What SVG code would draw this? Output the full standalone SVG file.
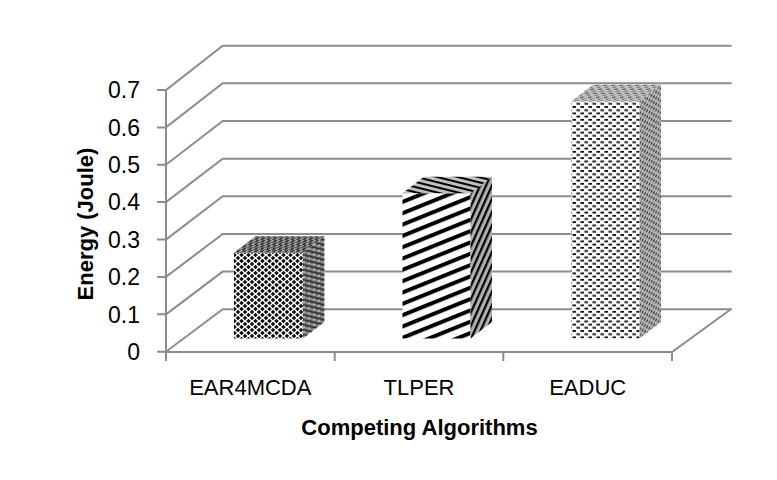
<svg xmlns="http://www.w3.org/2000/svg" width="777" height="480" viewBox="0 0 777 480">
<style>
.g{stroke:#8c8c8c;stroke-width:2;fill:none;stroke-linecap:square}
.t{font-family:"Liberation Sans",Arial,sans-serif;font-size:22px;fill:#000}
.n{font-size:23px}
.b{font-weight:bold}
</style>
<defs>
<pattern id="p1f" width="7" height="6" patternUnits="userSpaceOnUse">
<rect width="7" height="6" fill="#fff"/>
<path d="M3.5,0.8 L5.8,3 L3.5,5.2 L1.2,3Z M0,-2.2 L2.3,0 L0,2.2 L-2.3,0Z M7,-2.2 L9.3,0 L7,2.2 L4.7,0Z M0,3.8 L2.3,6 L0,8.2 L-2.3,6Z M7,3.8 L9.3,6 L7,8.2 L4.7,6Z" fill="#111"/>
</pattern>
<pattern id="p1s" width="5" height="5" patternUnits="userSpaceOnUse" patternTransform="skewY(-37)">
<rect width="5" height="5" fill="#8a8a8a"/>
<path d="M0,0 L5,5 M-1,4 L1,6 M4,-1 L6,1" stroke="#2a2a2a" stroke-width="1.4"/>
<circle cx="4" cy="1.2" r="0.9" fill="#d8d8d8"/>
</pattern>
<pattern id="p1t" width="6" height="5" patternUnits="userSpaceOnUse" patternTransform="skewX(-52)">
<rect width="6" height="5" fill="#9a9a9a"/>
<rect x="0" y="0" width="3" height="2.5" fill="#3a3a3a"/>
<rect x="3" y="2.5" width="3" height="2.5" fill="#3a3a3a"/>
</pattern>
<pattern id="p2f" width="10" height="10.5" patternUnits="userSpaceOnUse" patternTransform="rotate(-22)">
<rect width="10" height="10.5" fill="#fff"/>
<rect y="0" width="10" height="4" fill="#000"/>
</pattern>
<pattern id="p2s" width="10" height="5.4" patternUnits="userSpaceOnUse" patternTransform="rotate(-66)">
<rect width="10" height="5.4" fill="#b0b0b0"/>
<rect y="0" width="10" height="2.2" fill="#000"/>
</pattern>
<pattern id="p2t" width="10" height="5" patternUnits="userSpaceOnUse" patternTransform="rotate(14)">
<rect width="10" height="5" fill="#c0c0c0"/>
<rect y="0" width="10" height="2" fill="#000"/>
</pattern>
<pattern id="p3f" width="8" height="6.4" patternUnits="userSpaceOnUse">
<rect width="8" height="6.4" fill="#fff"/>
<rect x="0.4" y="0.5" width="3.6" height="1.8" fill="#111"/>
<rect x="4.4" y="3.7" width="3.6" height="1.8" fill="#111"/>
</pattern>
<pattern id="p3s" width="4.5" height="6" patternUnits="userSpaceOnUse" patternTransform="skewY(-37)">
<rect width="4.5" height="6" fill="#b4b4b4"/>
<rect x="0.5" y="0.5" width="1.8" height="1.8" fill="#333"/>
<rect x="2.7" y="3.5" width="1.8" height="1.8" fill="#333"/>
</pattern>
<pattern id="p3t" width="8" height="4" patternUnits="userSpaceOnUse" patternTransform="skewX(-52)">
<rect width="8" height="4" fill="#c2c2c2"/>
<rect x="0.5" y="0.5" width="3.5" height="1.3" fill="#5a5a5a"/>
<rect x="4.5" y="2.5" width="3.5" height="1.3" fill="#7a7a7a"/>
</pattern>
</defs>

<g id="grid">
<path class="g" d="M166,351.7 L222.7,309.3 L730.7,309.3 M166,314.3 L222.7,271.6 L730.7,271.6 M166,276.9 L222.7,234 L730.7,234 M166,239.5 L222.7,196.3 L730.7,196.3 M166,202.1 L222.7,158.7 L730.7,158.7 M166,164.7 L222.7,121 L730.7,121 M166,127.4 L222.7,83.3 L730.7,83.3 M166,90 L222.7,45.7 L730.7,45.7"/>
<path class="g" d="M166,352 L672,352 L730.7,309.3"/>
</g>

<g id="axes">
<path class="g" d="M166,90 L166,360 M158,351.7 L166,351.7 M158,314.3 L166,314.3 M158,276.9 L166,276.9 M158,239.5 L166,239.5 M158,202.1 L166,202.1 M158,164.7 L166,164.7 M158,127.4 L166,127.4 M158,90 L166,90 M334.7,352 L334.7,360 M503.3,352 L503.3,360 M672,352 L672,360"/>
</g>

<g id="bar-ear4mcda">
<rect x="234" y="252.7" width="69" height="85.8" fill="url(#p1f)"/>
<polygon points="303,252.7 324.5,236.2 324.5,322 303,338.5" fill="url(#p1s)"/>
<polygon points="234,252.7 255.5,236.2 324.5,236.2 303,252.7" fill="url(#p1t)"/>
</g>

<g id="bar-tlper">
<rect x="402.5" y="193.3" width="68" height="145.2" fill="url(#p2f)"/>
<polygon points="470.5,193.3 492,176.8 492,322 470.5,338.5" fill="url(#p2s)"/>
<polygon points="402.5,193.3 424,176.8 492,176.8 470.5,193.3" fill="url(#p2t)"/>
</g>

<g id="bar-eaduc">
<rect x="571.5" y="101.3" width="68" height="237.2" fill="url(#p3f)"/>
<polygon points="639.5,101.3 661,84.8 661,322 639.5,338.5" fill="url(#p3s)"/>
<polygon points="571.5,101.3 593,84.8 661,84.8 639.5,101.3" fill="url(#p3t)"/>
</g>

<g id="y-labels" class="t n" text-anchor="end">
<text x="140" y="360">0</text>
<text x="140" y="322.6">0.1</text>
<text x="140" y="285.2">0.2</text>
<text x="140" y="247.8">0.3</text>
<text x="140" y="210.4">0.4</text>
<text x="140" y="173">0.5</text>
<text x="140" y="135.7">0.6</text>
<text x="140" y="98.3">0.7</text>
</g>

<g id="x-labels" class="t" text-anchor="middle">
<text x="250.3" y="395">EAR4MCDA</text>
<text x="419" y="395">TLPER</text>
<text x="587.7" y="395">EADUC</text>
</g>

<g id="titles" class="t b" text-anchor="middle">
<text x="419.5" y="435">Competing Algorithms</text>
<text transform="translate(93,224) rotate(-90)">Energy (Joule)</text>
</g>
</svg>
